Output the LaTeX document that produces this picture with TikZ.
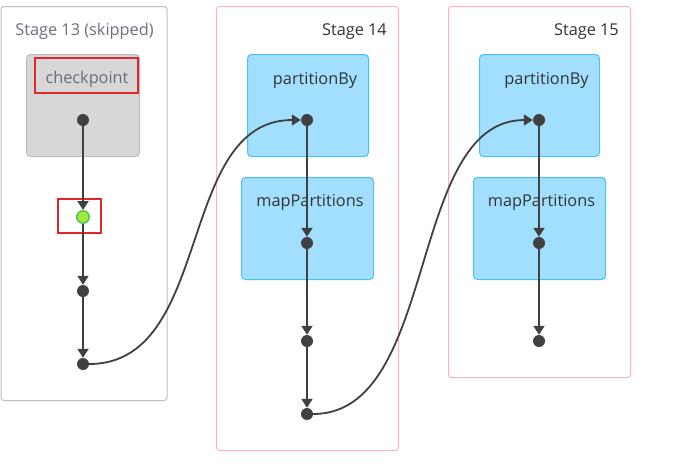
\documentclass[tikz,border=0pt]{standalone}
\usepackage{fontspec}
\setmainfont{Open Sans}
\usetikzlibrary{arrows.meta}
\definecolor{edgec}{HTML}{404040}
\definecolor{skipgray}{HTML}{BDBDBD}
\definecolor{pinkb}{HTML}{FFB1C1}
\definecolor{bluef}{HTML}{A2DFFF}
\definecolor{blueb}{HTML}{4AC0F5}
\definecolor{grayf}{HTML}{D7D7D7}
\definecolor{grayb}{HTML}{BBBBBB}
\definecolor{hred}{HTML}{E3262B}
\definecolor{greenf}{HTML}{9DEB3F}
\definecolor{greenb}{HTML}{5CC05C}
\definecolor{txt}{HTML}{333333}
\definecolor{txtgray}{HTML}{6A6F78}
\tikzset{
  stagebox/.style={draw, rounded corners=3pt, line width=1pt, anchor=north west, inner sep=0pt},
  opbox/.style={draw=blueb, fill=bluef, rounded corners=4pt, line width=1pt, anchor=north west, inner sep=0pt},
  skipbox/.style={draw=grayb, fill=grayf, rounded corners=4pt, line width=1pt, anchor=north west, inner sep=0pt},
  dotnode/.style={circle, fill=edgec, minimum size=12pt, inner sep=0pt},
  greendot/.style={circle, fill=greenf, draw=greenb, line width=1.5pt, minimum size=12.5pt, inner sep=0pt},
  hlbox/.style={draw=hred, line width=1.8pt, anchor=north west, inner sep=0pt},
  lbl/.style={font=\fontsize{16.3}{19}\selectfont, text=txt, inner sep=0pt, anchor=base},
  flow/.style={draw=edgec, line width=1.8pt, -{Triangle[length=9pt,width=11pt]}},
}
\begin{document}
\begin{tikzpicture}[x=1pt,y=-1pt]
\useasboundingbox (0,0) rectangle (691,464);
% stage boxes
\node[stagebox, draw=skipgray, minimum width=166pt, minimum height=394pt] (s13) at (0.5,6) {};
\node[stagebox, draw=pinkb, minimum width=182pt, minimum height=444pt] (s14) at (216,6) {};
\node[stagebox, draw=pinkb, minimum width=182pt, minimum height=371pt] (s15) at (448,6) {};
\node[lbl, text=txtgray] (t13) at (84.5,35) {Stage 13 (skipped)};
\node[lbl, anchor=base east] (t14) at (387,35) {Stage 14};
\node[lbl, anchor=base east] (t15) at (619,35) {Stage 15};
% op boxes
\node[skipbox, minimum width=113pt, minimum height=102pt] (cp) at (26,54) {};
\node[opbox, minimum width=121pt, minimum height=102pt] (pb14) at (247,54) {};
\node[opbox, minimum width=132pt, minimum height=102pt] (mp14) at (241,177) {};
\node[opbox, minimum width=120pt, minimum height=102pt] (pb15) at (479,54) {};
\node[opbox, minimum width=132pt, minimum height=102pt] (mp15) at (473,177) {};
\node[lbl, text=txtgray] (cpt) at (87,83) {checkpoint};
\node[lbl] (pb14t) at (315,84) {partitionBy};
\node[lbl] (mp14t) at (310,206) {mapPartitions};
\node[lbl] (pb15t) at (546.5,84) {partitionBy};
\node[lbl] (mp15t) at (541.5,206) {mapPartitions};
% highlight boxes
\node[hlbox, minimum width=103pt, minimum height=35pt] (hl1) at (34,57) {};
\node[hlbox, minimum width=43pt, minimum height=34pt] (hl2) at (57,198) {};
% dots
\node[dotnode] (a1) at (83,120) {};
\node[greendot] (a2) at (83,217) {};
\node[dotnode] (a3) at (83,291) {};
\node[dotnode] (a4) at (83,364) {};
\node[dotnode] (b1) at (307,120) {};
\node[dotnode] (b2) at (307,243) {};
\node[dotnode] (b3) at (307,341) {};
\node[dotnode] (b4) at (307,414) {};
\node[dotnode] (c1) at (539,120) {};
\node[dotnode] (c2) at (539,243) {};
\node[dotnode] (c3) at (539,341) {};
% edges
\draw[flow] (a1) -- (a2);
\draw[flow] (a2) -- (a3);
\draw[flow] (a3) -- (a4);
\draw[flow] (b1) -- (b2);
\draw[flow] (b2) -- (b3);
\draw[flow] (b3) -- (b4);
\draw[flow] (c1) -- (c2);
\draw[flow] (c2) -- (c3);
\draw[flow] (a4.east) .. controls +(125,0) and +(-125,0) .. (b1.west);
\draw[flow] (b4.east) .. controls +(126,0) and +(-126,0) .. (c1.west);
\end{tikzpicture}
\end{document}
